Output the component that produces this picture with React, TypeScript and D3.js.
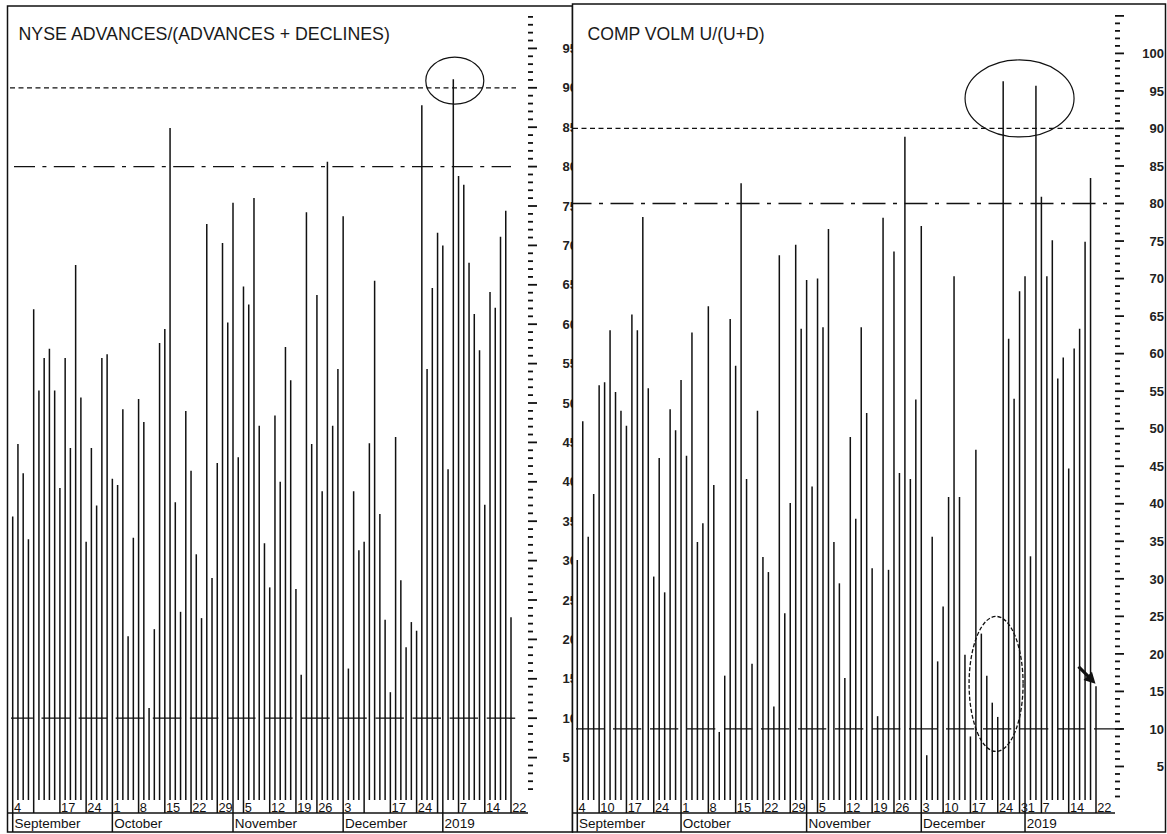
import React from "react";
import * as d3 from "d3";

// ---------- DATA ----------
const tradingDates: string[] = [
  "2018-09-04", "2018-09-05", "2018-09-06", "2018-09-07",
  "2018-09-10", "2018-09-11", "2018-09-12", "2018-09-13", "2018-09-14",
  "2018-09-17", "2018-09-18", "2018-09-19", "2018-09-20", "2018-09-21",
  "2018-09-24", "2018-09-25", "2018-09-26", "2018-09-27", "2018-09-28",
  "2018-10-01", "2018-10-02", "2018-10-03", "2018-10-04", "2018-10-05",
  "2018-10-08", "2018-10-09", "2018-10-10", "2018-10-11", "2018-10-12",
  "2018-10-15", "2018-10-16", "2018-10-17", "2018-10-18", "2018-10-19",
  "2018-10-22", "2018-10-23", "2018-10-24", "2018-10-25", "2018-10-26",
  "2018-10-29", "2018-10-30", "2018-10-31",
  "2018-11-01", "2018-11-02",
  "2018-11-05", "2018-11-06", "2018-11-07", "2018-11-08", "2018-11-09",
  "2018-11-12", "2018-11-13", "2018-11-14", "2018-11-15", "2018-11-16",
  "2018-11-19", "2018-11-20", "2018-11-21", "2018-11-23",
  "2018-11-26", "2018-11-27", "2018-11-28", "2018-11-29", "2018-11-30",
  "2018-12-03", "2018-12-04", "2018-12-06", "2018-12-07",
  "2018-12-10", "2018-12-11", "2018-12-12", "2018-12-13", "2018-12-14",
  "2018-12-17", "2018-12-18", "2018-12-19", "2018-12-20", "2018-12-21",
  "2018-12-24", "2018-12-26", "2018-12-27", "2018-12-28",
  "2018-12-31",
  "2019-01-02", "2019-01-03", "2019-01-04",
  "2019-01-07", "2019-01-08", "2019-01-09", "2019-01-10", "2019-01-11",
  "2019-01-14", "2019-01-15", "2019-01-16", "2019-01-17", "2019-01-18",
  "2019-01-22",
];

// NYSE advances / (advances + declines), %
const nyseAdvancePct: number[] = [
  35.6, 44.8, 41.1, 32.7, 61.9, 51.6, 55.7, 56.9, 51.6, 39.2,
  55.7, 44.3, 67.5, 50.7, 32.4, 44.3, 37.0, 55.7, 56.2, 40.4,
  39.6, 49.2, 20.4, 32.9, 50.5, 47.6, 11.3, 21.3, 57.6, 59.4,
  84.9, 37.4, 23.5, 49.0, 41.4, 30.8, 22.7, 72.7, 27.8, 42.4,
  70.3, 60.2, 75.4, 43.1, 64.8, 62.5, 76.0, 47.1, 32.2, 26.6,
  48.4, 40.0, 57.1, 52.9, 26.4, 15.5, 74.2, 44.8, 63.7, 38.8,
  80.6, 47.1, 54.3, 73.7, 16.3, 38.8, 31.3, 32.4, 44.9, 65.5,
  35.9, 22.5, 13.3, 45.7, 27.5, 19.0, 22.2, 21.1, 87.8, 54.3,
  64.6, 71.6, 70.0, 41.6, 91.1, 78.8, 77.7, 67.8, 61.3, 56.7,
  37.1, 64.1, 62.1, 71.1, 74.4, 22.8,
];

// Composite volume up / (up + down), %
const compVolumeUpPct: number[] = [
  32.5, 51.0, 35.6, 41.3, 55.8, 56.2, 63.1, 54.9, 52.4, 50.4,
  65.2, 63.1, 78.2, 55.4, 30.3, 46.1, 28.2, 52.6, 49.8, 56.5,
  46.4, 62.8, 34.9, 37.4, 66.3, 42.5, 9.6, 17.1, 64.6, 58.4,
  82.7, 43.3, 18.7, 52.4, 32.9, 30.9, 13.0, 73.1, 25.4, 40.1,
  74.5, 63.3, 69.8, 42.3, 70.0, 63.5, 76.6, 34.9, 29.4, 16.8,
  48.9, 38.0, 63.5, 52.1, 31.4, 11.7, 78.1, 31.2, 73.6, 44.1,
  88.9, 43.3, 53.9, 77.0, 6.5, 35.6, 19.0, 26.3, 40.9, 70.3,
  40.9, 19.9, 9.0, 47.2, 22.7, 17.1, 13.5, 11.6, 96.3, 62.0,
  54.0, 68.3, 70.3, 33.0, 95.7, 80.9, 70.3, 75.1, 56.7, 59.5,
  44.7, 60.7, 63.3, 74.9, 83.4, 15.7,
];

const leftDayLabelDates: string[] = [
  "2018-09-04", "2018-09-17", "2018-09-24", "2018-10-01", "2018-10-08",
  "2018-10-15", "2018-10-22", "2018-10-29", "2018-11-05", "2018-11-12",
  "2018-11-19", "2018-11-26", "2018-12-03", "2018-12-17", "2018-12-24",
  "2019-01-07", "2019-01-14", "2019-01-22",
];
const rightDayLabelDates: string[] = [
  "2018-09-04", "2018-09-10", "2018-09-17", "2018-09-24", "2018-10-01",
  "2018-10-08", "2018-10-15", "2018-10-22", "2018-10-29", "2018-11-05",
  "2018-11-12", "2018-11-19", "2018-11-26", "2018-12-03", "2018-12-10",
  "2018-12-17", "2018-12-24", "2018-12-31", "2019-01-07", "2019-01-14",
  "2019-01-22",
];
const monthLabels: string[] = ["September", "October", "November", "December", "2019"];

const leftTitle = "NYSE ADVANCES/(ADVANCES + DECLINES)";
const rightTitle = "COMP VOLM U/(U+D)";

// ---------- derived calendar structure ----------
const parse = d3.timeParse("%Y-%m-%d");
const dates = tradingDates.map((s) => parse(s) as Date);
const weekStart = dates.map((d, i) => i === 0 || d.getDay() < dates[i - 1].getDay());
const monthStart = dates.map((d, i) => i === 0 || d.getMonth() !== dates[i - 1].getMonth());
const monthStartIdx = monthStart.map((m, i) => (m ? i : -1)).filter((i) => i >= 0);

const FONT = "'Liberation Sans', Arial, Helvetica, sans-serif";
const INK = "#111";

// ---------- layouts ----------
const LEFT = {
  frame: { x: 7.5, y: 6, x2: 572.5, y2: 832 },
  barRange: [12.7, 511],
  yRange: [797, 9],
  barBottom: 800,
  weekBottom: 813,
  axisX: 528,
  tickMin: 1,
  tickMax: 99,
  labelMin: 5,
  labelMax: 95,
  labelX: 562.5,
  labelAnchor: "start",
  titleX: 18.5,
  titleY: 39.5,
  titleSize: 17.8,
  lines: [
    { level: 90, x1: 10, x2: 516, dash: "5,3.5", offset: 0 },
    { level: 80, x1: 14, x2: 511, dash: "21,7.4,4,7.4", offset: 0 },
    { level: 10, x1: 11, x2: 515.5, dash: "28.5,8.6", offset: 6.6 },
  ],
};

const RIGHT = {
  frame: { x: 572.5, y: 4, x2: 1165.5, y2: 832 },
  barRange: [577.3, 1096],
  yRange: [804, 53.4],
  barBottom: 800,
  weekBottom: 813,
  axisX: 1115,
  tickMin: 1,
  tickMax: 105,
  labelMin: 5,
  labelMax: 100,
  labelX: 1164,
  labelAnchor: "end",
  titleX: 587.5,
  titleY: 39.5,
  titleSize: 17.6,
  lines: [
    { level: 90, x1: 573, x2: 1122, dash: "5,3.5", offset: 0 },
    { level: 80, x1: 573, x2: 1110, dash: "23,7.5,4,7.5", offset: 4.5 },
    { level: 10, x1: 576, x2: 1123, dash: "28.3,8.7", offset: 0 },
  ],
};

function Panel({ cfg, values, title, dayLabelDates, annotate }: any) {
  const n = values.length;
  const x = d3.scaleLinear().domain([0, n - 1]).range(cfg.barRange);
  const y = d3.scaleLinear().domain([0, 100]).range(cfg.yRange);
  const f = cfg.frame;
  const ticks = d3.range(cfg.tickMin, cfg.tickMax + 1);
  const labelSet = new Set(dayLabelDates);

  return (
    <g>
      <rect x={f.x} y={f.y} width={f.x2 - f.x} height={f.y2 - f.y} fill="#fff" />

      {cfg.lines.map((l: any) => (
        <line
          key={"ref" + l.level}
          x1={l.x1}
          x2={l.x2}
          y1={y(l.level)}
          y2={y(l.level)}
          stroke={INK}
          strokeWidth={1.3}
          strokeDasharray={l.dash}
          strokeDashoffset={l.offset}
        />
      ))}

      {values.map((v: number, i: number) => {
        const bottom = monthStart[i] ? f.y2 : weekStart[i] ? cfg.weekBottom : cfg.barBottom;
        return (
          <line key={"b" + i} x1={x(i)} x2={x(i)} y1={bottom} y2={y(v)} stroke={INK} strokeWidth={1.5} />
        );
      })}

      <line x1={f.x} x2={cfg.axisX} y1={cfg.weekBottom} y2={cfg.weekBottom} stroke={INK} strokeWidth={1.3} />

      {ticks.map((t: number) => (
        <line
          key={"t" + t}
          x1={cfg.axisX}
          x2={cfg.axisX + (t % 5 === 0 ? 9 : 5)}
          y1={y(t)}
          y2={y(t)}
          stroke={INK}
          strokeWidth={1.8}
        />
      ))}
      {d3.range(cfg.labelMin, cfg.labelMax + 1, 5).map((t: number) => (
        <text
          key={"l" + t}
          x={cfg.labelX}
          y={y(t)}
          dy="0.36em"
          textAnchor={cfg.labelAnchor}
          fontFamily={FONT}
          fontSize={13}
          fontWeight="bold"
          fill="#222"
        >
          {t}
        </text>
      ))}

      {dates.map((d, i) =>
        labelSet.has(tradingDates[i]) ? (
          <text key={"d" + i} x={x(i) + 1.2} y={812} fontFamily={FONT} fontSize={12.8} fill={INK}>
            {d.getDate()}
          </text>
        ) : null
      )}
      {monthStartIdx.map((idx, k) => (
        <text key={"m" + k} x={x(idx) + 1.8} y={827.5} fontFamily={FONT} fontSize={13.5} fill={INK}>
          {monthLabels[k]}
        </text>
      ))}

      <text x={cfg.titleX} y={cfg.titleY} fontFamily={FONT} fontSize={cfg.titleSize} fill="#1a1a1a">
        {title}
      </text>

      {annotate(x, y)}

      <rect x={f.x} y={f.y} width={f.x2 - f.x} height={f.y2 - f.y} fill="none" stroke={INK} strokeWidth={1.5} />
    </g>
  );
}

export default function App() {
  return (
    <div style={{ position: "absolute", left: 0, top: 0 }}>
      <svg width={1167} height={834} style={{ display: "block", background: "#fff" }}>
        <Panel
          cfg={LEFT}
          values={nyseAdvancePct}
          title={leftTitle}
          dayLabelDates={leftDayLabelDates}
          annotate={(x: any, y: any) => (
            <ellipse cx={x(84) + 1.5} cy={y(90.9)} rx={29} ry={23.5} fill="none" stroke={INK} strokeWidth={1.2} />
          )}
        />
        <Panel
          cfg={RIGHT}
          values={compVolumeUpPct}
          title={rightTitle}
          dayLabelDates={rightDayLabelDates}
          annotate={(x: any, y: any) => {
            const last = compVolumeUpPct.length - 1;
            const tip: [number, number] = [x(last) - 0.5, y(compVolumeUpPct[last]) - 2.5];
            const u = Math.SQRT1_2;
            const hl = 11, hw = 6;
            const base: [number, number] = [tip[0] - hl * u, tip[1] - hl * u];
            const head = `M${tip[0]},${tip[1]} L${base[0] - hw * u},${base[1] + hw * u} L${base[0] + hw * u},${base[1] - hw * u} Z`;
            return (
              <g>
                <ellipse cx={(x(78) + x(84)) / 2} cy={y(94)} rx={54.5} ry={38.5} fill="none" stroke={INK} strokeWidth={1.2} />
                <ellipse cx={x(76.7)} cy={y(16)} rx={27} ry={67.5} fill="none" stroke={INK} strokeWidth={1.3} strokeDasharray="4,2" />
                <line x1={tip[0] - 17} y1={tip[1] - 17} x2={base[0] + 1} y2={base[1] + 1} stroke={INK} strokeWidth={3.2} />
                <path d={head} fill={INK} />
              </g>
            );
          }}
        />
      </svg>
    </div>
  );
}
